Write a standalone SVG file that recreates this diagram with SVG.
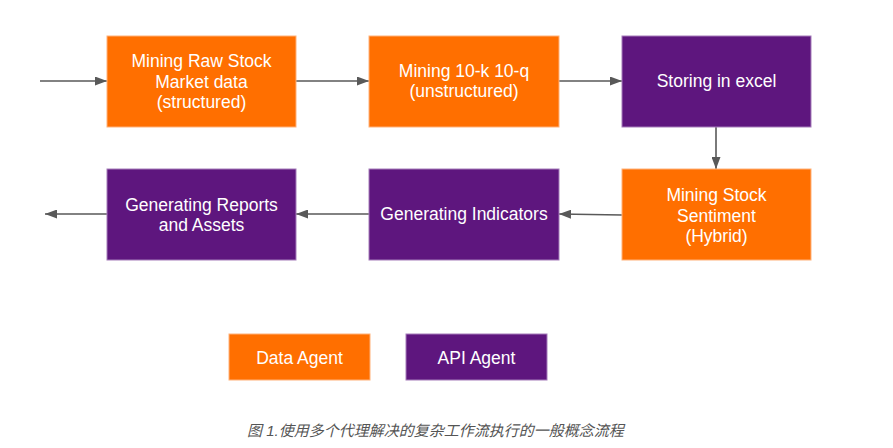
<svg xmlns="http://www.w3.org/2000/svg" width="893" height="448" viewBox="0 0 893 448">
<style>
.data{fill:#FF6F00;stroke:#FFB27A;stroke-width:1}
.api{fill:#5E167E;stroke:#A57DBA;stroke-width:1}
.t{font-family:"Liberation Sans",Arial,sans-serif;font-size:17.5px;fill:#ffffff;text-anchor:middle}
.c{stroke:#595959;stroke-width:1.6;fill:none;marker-end:url(#ah)}
.cap{font-family:"Liberation Sans","Noto Sans CJK SC",sans-serif;font-size:15px;font-style:italic;fill:#555555}
</style>
<defs>
<marker id="ah" viewBox="0 0 12 9" refX="12" refY="4.5" markerWidth="12" markerHeight="9" markerUnits="userSpaceOnUse" orient="auto">
<path d="M0,0 L12,4.5 L0,9 Z" fill="#595959"/>
</marker>
</defs>
<rect width="893" height="448" fill="#ffffff"/>
<g id="connectors">
<line class="c" x1="40" y1="81" x2="107" y2="81"/>
<line class="c" x1="296" y1="81" x2="369" y2="81"/>
<line class="c" x1="559" y1="81" x2="622" y2="81"/>
<line class="c" x1="716" y1="127" x2="716" y2="169"/>
<line class="c" x1="622" y1="215" x2="559" y2="214"/>
<line class="c" x1="369" y1="214" x2="296" y2="214"/>
<line class="c" x1="107" y1="214" x2="45" y2="214"/>
</g>
<g id="n1">
<rect class="data" x="107" y="36" width="189" height="91"/>
<text class="t" x="201.5" y="67">Mining Raw Stock</text>
<text class="t" x="201.5" y="87.5">Market data</text>
<text class="t" x="201.5" y="108">(structured)</text>
</g>
<g id="n2">
<rect class="data" x="369" y="36" width="190" height="91"/>
<text class="t" x="464" y="77">Mining 10-k 10-q</text>
<text class="t" x="464" y="97">(unstructured)</text>
</g>
<g id="n3">
<rect class="api" x="622" y="36" width="189" height="91"/>
<text class="t" x="716.5" y="87">Storing in excel</text>
</g>
<g id="n4">
<rect class="data" x="622" y="169" width="189" height="91"/>
<text class="t" x="716.5" y="201">Mining Stock</text>
<text class="t" x="716.5" y="221.5">Sentiment</text>
<text class="t" x="716.5" y="242">(Hybrid)</text>
</g>
<g id="n5">
<rect class="api" x="369" y="169" width="190" height="91"/>
<text class="t" x="464" y="220">Generating Indicators</text>
</g>
<g id="n6">
<rect class="api" x="107" y="169" width="189" height="91"/>
<text class="t" x="201.5" y="210.5">Generating Reports</text>
<text class="t" x="201.5" y="231">and Assets</text>
</g>
<g id="legend-data">
<rect class="data" x="229" y="334" width="141" height="46"/>
<text class="t" x="299.5" y="364">Data Agent</text>
</g>
<g id="legend-api">
<rect class="api" x="406" y="334" width="141" height="46"/>
<text class="t" x="476.5" y="364">API Agent</text>
</g>
<text class="cap" x="247" y="436">图 1.使用多个代理解决的复杂工作流执行的一般概念流程</text>
</svg>
